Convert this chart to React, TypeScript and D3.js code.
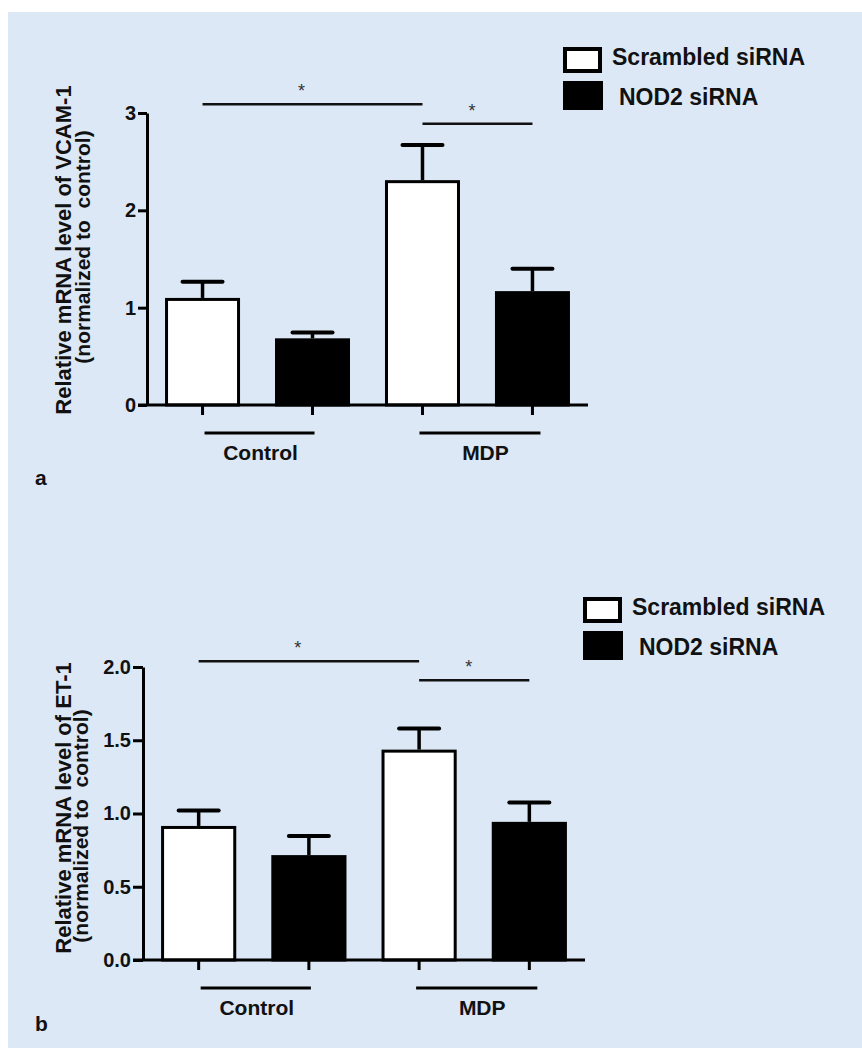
import React, { useEffect, useRef } from "react"
import * as d3 from "d3"

// bar order: Control/Scrambled, Control/NOD2, MDP/Scrambled, MDP/NOD2
const groups = ["Control", "MDP"]
const seriesNames = ["Scrambled siRNA", "NOD2 siRNA"]

const vcamMean = [1.1, 0.685, 2.31, 1.17]
const vcamErr = [0.165, 0.06, 0.36, 0.23]
const vcamTicks = [0, 1, 2, 3]
// [from bar, to bar, height]
const vcamSig = [[0, 2, 3.09], [2, 3, 2.89]]

const et1Mean = [0.915, 0.716, 1.436, 0.943]
const et1Err = [0.105, 0.131, 0.144, 0.132]
const et1Ticks = [0, 0.5, 1.0, 1.5, 2.0]
const et1Sig = [[0, 2, 2.04], [2, 3, 1.91]]

const W = 862
const H = 1048
const BG = "#dce8f5"
const FONT = "'Liberation Sans', Arial, sans-serif"

const panels = [
    {
        letter: "a", mean: vcamMean, err: vcamErr, ticks: vcamTicks, sig: vcamSig,
        fmt: d3.format("d"), yMax: 3,
        title: ["Relative mRNA level of VCAM-1", "(normalized to  control)"],
        x0: 147, x1: 588, y0: 405, y1: 113, tickLen: 9,
        titleX: [71, 90], titleY: [250, 247],
        legendX: 563, legendY: 47, letterY: 485
    },
    {
        letter: "b", mean: et1Mean, err: et1Err, ticks: et1Ticks, sig: et1Sig,
        fmt: d3.format(".1f"), yMax: 2,
        title: ["Relative mRNA level of ET-1", "(normalized to  control)"],
        x0: 143, x1: 585, y0: 960, y1: 667, tickLen: 10,
        titleX: [70.5, 88], titleY: [808, 826],
        legendX: 583, legendY: 597, letterY: 1031
    }
]

function drawPanel(svg, p) {
    let x = d3.scaleBand()
        .domain(d3.range(p.mean.length))
        .range([p.x0, p.x1])
        .paddingInner(0.318)
        .paddingOuter(0.164)
    let y = d3.scaleLinear().domain([0, p.yMax]).range([p.y0, p.y1])
    let bw = x.bandwidth()
    let cx = i => x(i) + bw / 2

    let g = svg.append("g").attr("font-family", FONT)

    // bars
    g.selectAll("rect.bar")
        .data(p.mean)
        .enter()
        .append("rect")
        .attr("x", (d, i) => x(i) + 1.5)
        .attr("width", bw - 3)
        .attr("y", d => y(d) + 1.5)
        .attr("height", d => p.y0 - y(d) - 1.5)
        .attr("fill", (d, i) => i % 2 === 0 ? "#fff" : "#000")
        .attr("stroke", "#000")
        .attr("stroke-width", 3)

    // error bars (upper only)
    p.mean.forEach((m, i) => {
        g.append("line")
            .attr("x1", cx(i)).attr("x2", cx(i))
            .attr("y1", y(m)).attr("y2", y(m + p.err[i]))
            .attr("stroke", "#000").attr("stroke-width", 3.5)
        g.append("line")
            .attr("x1", cx(i) - 20).attr("x2", cx(i) + 20)
            .attr("y1", y(m + p.err[i])).attr("y2", y(m + p.err[i]))
            .attr("stroke", "#000").attr("stroke-width", 4)
            .attr("stroke-linecap", "round")
    })

    // y axis
    let yAxis = g.append("g")
        .attr("transform", `translate(${p.x0},0)`)
        .call(d3.axisLeft(y).tickValues(p.ticks).tickFormat(p.fmt)
            .tickSize(p.tickLen).tickSizeOuter(0).tickPadding(2))
    yAxis.select(".domain").attr("stroke-width", 3).attr("stroke", "#000")
    yAxis.selectAll(".tick line").attr("stroke-width", 3).attr("stroke", "#000")
    yAxis.selectAll(".tick text")
        .attr("font-family", FONT).attr("font-size", 20).attr("font-weight", "bold")
        .attr("fill", "#111")

    // x axis
    let xAxis = g.append("g")
        .attr("transform", `translate(0,${p.y0})`)
        .call(d3.axisBottom(x).tickSize(10).tickSizeOuter(0).tickFormat(() => ""))
    xAxis.select(".domain").remove()
    xAxis.selectAll(".tick line").attr("stroke-width", 3).attr("stroke", "#000")
    g.append("line")
        .attr("x1", p.x0 - p.tickLen).attr("x2", p.x1)
        .attr("y1", p.y0).attr("y2", p.y0)
        .attr("stroke", "#000").attr("stroke-width", 3)

    // group lines and labels
    groups.forEach((name, gi) => {
        let a = cx(gi * 2), b = cx(gi * 2 + 1)
        g.append("line")
            .attr("x1", a + (gi ? -3 : 2)).attr("x2", b + (gi ? 8 : 2))
            .attr("y1", p.y0 + 28).attr("y2", p.y0 + 28)
            .attr("stroke", "#000").attr("stroke-width", 3)
        g.append("text")
            .attr("x", (a + b) / 2 + (gi ? 8 : 3))
            .attr("y", p.y0 + 55)
            .attr("text-anchor", "middle")
            .attr("font-size", 21).attr("font-weight", "bold").attr("fill", "#111")
            .text(name)
    })

    // significance brackets
    p.sig.forEach(([from, to, h]) => {
        let a = cx(from), b = cx(to)
        g.append("line")
            .attr("x1", a).attr("x2", b)
            .attr("y1", y(h)).attr("y2", y(h))
            .attr("stroke", "#111").attr("stroke-width", 2.5)
        g.append("text")
            .attr("x", a + 0.45 * (b - a))
            .attr("y", y(h) - 7)
            .attr("text-anchor", "middle")
            .attr("font-size", 18).attr("fill", "#333")
            .text("*")
    })

    // y title
    p.title.forEach((t, li) => {
        g.append("text")
            .attr("transform", `translate(${p.titleX[li]},${p.titleY[li]}) rotate(-90)`)
            .attr("text-anchor", "middle")
            .attr("font-size", li === 0 ? 22 : 21).attr("font-weight", "bold")
            .attr("fill", "#111")
            .style("white-space", "pre")
            .text(t)
    })

    // legend
    let lg = g.append("g")
    lg.append("rect")
        .attr("x", p.legendX + 2).attr("y", p.legendY + 2)
        .attr("width", 35).attr("height", 22)
        .attr("fill", "#fff").attr("stroke", "#000").attr("stroke-width", 4)
    lg.append("rect")
        .attr("x", p.legendX).attr("y", p.legendY + 34)
        .attr("width", 40).attr("height", 29)
        .attr("fill", "#000")
    lg.append("text")
        .attr("x", p.legendX + 49).attr("y", p.legendY + 18)
        .attr("font-size", 23).attr("font-weight", "bold").attr("fill", "#111")
        .text(seriesNames[0])
    lg.append("text")
        .attr("x", p.legendX + 56).attr("y", p.legendY + 58)
        .attr("font-size", 23).attr("font-weight", "bold").attr("fill", "#111")
        .text(seriesNames[1])

    // panel letter
    g.append("text")
        .attr("x", 35).attr("y", p.letterY)
        .attr("font-size", 21).attr("font-weight", "bold").attr("fill", "#111")
        .text(p.letter)
}

export default function App() {
    const ref = useRef(null)

    useEffect(() => {
        let svg = d3.select(ref.current)
        svg.selectAll("*").remove()
        svg.append("rect").attr("width", W).attr("height", H).attr("fill", "#fff")
        svg.append("rect").attr("x", 8).attr("y", 12)
            .attr("width", W - 8).attr("height", H - 12).attr("fill", BG)
        panels.forEach(p => drawPanel(svg, p))
    }, [])

    return (
        <svg ref={ref} width={W} height={H}
            style={{ position: "absolute", left: 0, top: 0, display: "block" }} />
    )
}
